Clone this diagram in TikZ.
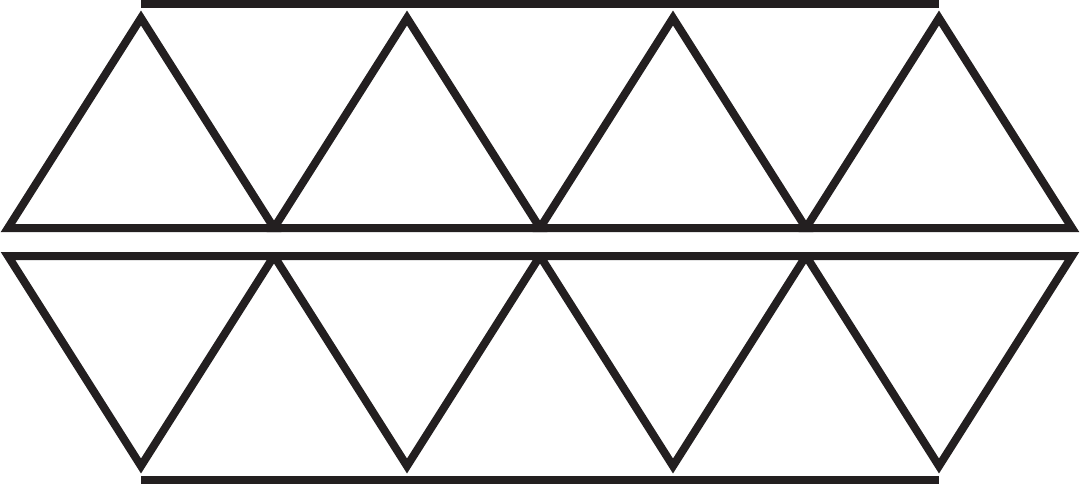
\documentclass[tikz,border=0pt]{standalone}
\usepackage{tikz}

\begin{document}
\begin{tikzpicture}[x=0.02cm,y=-0.02cm,line join=miter,line cap=butt]
  \definecolor{inkblack}{HTML}{231F20}
  \tikzstyle{tri}=[draw=inkblack,line width=0.16cm]
  \tikzstyle{bar}=[draw=inkblack,line width=0.16cm]

  \useasboundingbox (0,0) rectangle (1080,484);

  % upper row
  \coordinate (u0) at (8,228);
  \coordinate (u1) at (274,228);
  \coordinate (u2) at (540,228);
  \coordinate (u3) at (806,228);
  \coordinate (u4) at (1072,228);
  \coordinate (a1) at (141,18);
  \coordinate (a2) at (407,18);
  \coordinate (a3) at (673,18);
  \coordinate (a4) at (939,18);

  % lower row
  \coordinate (l0) at (8,256);
  \coordinate (l1) at (274,256);
  \coordinate (l2) at (540,256);
  \coordinate (l3) at (806,256);
  \coordinate (l4) at (1072,256);
  \coordinate (b1) at (141,466);
  \coordinate (b2) at (407,466);
  \coordinate (b3) at (673,466);
  \coordinate (b4) at (939,466);

  % bar ends
  \coordinate (t1) at (141,4);
  \coordinate (t2) at (939,4);
  \coordinate (s1) at (141,480);
  \coordinate (s2) at (939,480);

  \draw[tri] (u0) -- (a1) -- (u1) -- cycle;
  \draw[tri] (u1) -- (a2) -- (u2) -- cycle;
  \draw[tri] (u2) -- (a3) -- (u3) -- cycle;
  \draw[tri] (u3) -- (a4) -- (u4) -- cycle;

  \draw[tri] (l0) -- (b1) -- (l1) -- cycle;
  \draw[tri] (l1) -- (b2) -- (l2) -- cycle;
  \draw[tri] (l2) -- (b3) -- (l3) -- cycle;
  \draw[tri] (l3) -- (b4) -- (l4) -- cycle;

  \draw[bar] (t1) -- (t2);
  \draw[bar] (s1) -- (s2);
\end{tikzpicture}
\end{document}
